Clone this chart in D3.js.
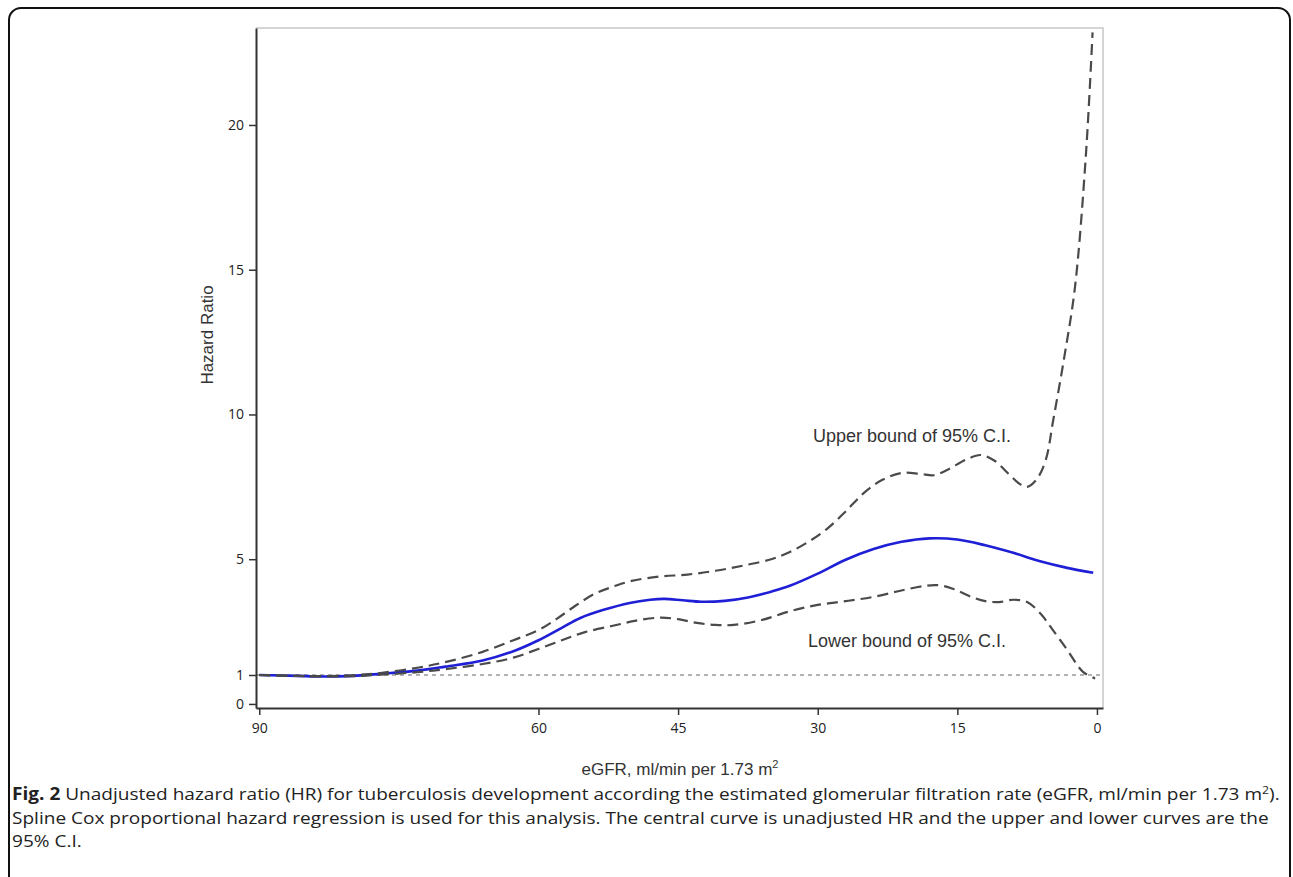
<!DOCTYPE html>
<html>
<head>
<meta charset="utf-8">
<script src="https://cdn.jsdelivr.net/npm/d3@7"></script>
<style>
  body { margin: 0; background: #fff; }
  svg { display: block; }
</style>
</head>
<body>
<svg width="1293" height="877"></svg>
<script>
// eGFR ticks and HR ticks
const xTicks = [90, 60, 45, 30, 15, 0];
const yTicks = [0, 1, 5, 10, 15, 20];

// central curve (unadjusted HR)
const hrX = [90, 86, 83, 80, 77, 73, 70, 66, 62.7, 60, 57.5, 55.5, 53, 50.2, 48, 46.5, 44.5, 42.5, 40, 37.5, 35, 33, 30, 27, 24, 21, 18, 15, 12, 9, 6, 3.2, 0.4];
const hrY = [1.0, 0.97, 0.95, 0.97, 1.04, 1.15, 1.29, 1.5, 1.82, 2.2, 2.63, 2.97, 3.25, 3.49, 3.6, 3.63, 3.58, 3.53, 3.56, 3.68, 3.88, 4.08, 4.5, 4.98, 5.35, 5.6, 5.72, 5.68, 5.48, 5.22, 4.92, 4.7, 4.53];

// upper bound of 95% CI
const upX = [90, 86, 83, 80, 77, 73, 69.8, 66, 62.7, 60, 58, 56, 54, 52, 50, 47, 44, 41, 38, 35, 33, 31, 29, 27, 25, 23, 21, 19, 17.5, 16, 14, 12.5, 11, 9.5, 8.3, 7.5, 6.5, 5.5, 4.7, 3.5, 2.36, 1.18, 0.47];
const upY = [1.0, 0.97, 0.96, 0.99, 1.07, 1.25, 1.46, 1.8, 2.2, 2.55, 2.95, 3.4, 3.8, 4.05, 4.25, 4.4, 4.47, 4.6, 4.78, 5.0, 5.25, 5.6, 6.05, 6.65, 7.3, 7.75, 7.98, 7.95, 7.9, 8.1, 8.45, 8.6, 8.4, 7.95, 7.6, 7.5, 7.75, 8.43, 9.8, 12.0, 14.4, 19.0, 23.2];

// lower bound of 95% CI
const loX = [90, 86, 83, 80, 77, 73, 69.8, 66, 62.7, 60, 57.5, 55, 52, 49.5, 47, 45, 43, 41, 39, 36, 33, 30, 27, 24, 21, 18.5, 17, 15.5, 13.5, 12, 10.5, 9, 7.5, 6, 5, 3.2, 1.5, 0.2];
const loY = [1.0, 0.97, 0.95, 0.96, 1.01, 1.1, 1.21, 1.38, 1.6, 1.9, 2.2, 2.48, 2.7, 2.88, 2.98, 2.93, 2.8, 2.73, 2.73, 2.9, 3.2, 3.42, 3.55, 3.7, 3.92, 4.08, 4.1, 3.98, 3.7, 3.55, 3.52, 3.6, 3.52, 3.1, 2.67, 1.87, 1.11, 0.88];

const captionLines = [
  { bold: "Fig. 2", text: " Unadjusted hazard ratio (HR) for tuberculosis development according the estimated glomerular filtration rate (eGFR, ml/min per 1.73 m", sup: "2", tail: ")." },
  { bold: "", text: "Spline Cox proportional hazard regression is used for this analysis. The central curve is unadjusted HR and the upper and lower curves are the" },
  { bold: "", text: "95% C.I." }
];

const svg = d3.select("svg");

// outer rounded frame (bottom edge runs off the page)
svg.append("rect")
  .attr("x", 9).attr("y", 8)
  .attr("width", 1281).attr("height", 880)
  .attr("rx", 12)
  .attr("fill", "none")
  .attr("stroke", "#111")
  .attr("stroke-width", 2);

const x = d3.scaleLinear().domain([90.35, -0.65]).range([256, 1103]);
const y = d3.scaleLinear().domain([-0.14, 23.35]).range([708, 28]);

// plot frame (top / right light gray)
svg.append("path")
  .attr("d", `M${x.range()[0]},${y.range()[1]}H${x.range()[1]}V${y.range()[0]}`)
  .attr("fill", "none")
  .attr("stroke", "#c8c8c8")
  .attr("stroke-width", 1.5);

// reference line at HR = 1
svg.append("line")
  .attr("x1", x.range()[0]).attr("x2", x.range()[1])
  .attr("y1", y(1)).attr("y2", y(1))
  .attr("stroke", "#999")
  .attr("stroke-width", 1.3)
  .attr("stroke-dasharray", "4,4");

const tickFont = "'Open Sans', 'DejaVu Sans', sans-serif";

const xAxis = svg.append("g")
  .attr("transform", `translate(0,${y.range()[0]})`)
  .call(d3.axisBottom(x).tickValues(xTicks).tickSize(7).tickPadding(8).tickSizeOuter(0));
const yAxis = svg.append("g")
  .attr("transform", `translate(${x.range()[0]},0)`)
  .call(d3.axisLeft(y).tickValues(yTicks).tickSize(7).tickPadding(5).tickSizeOuter(0));

[xAxis, yAxis].forEach(g => {
  g.select(".domain").attr("stroke", "#333").attr("stroke-width", 2);
  g.selectAll(".tick line").attr("stroke", "#333").attr("stroke-width", 1.5);
  g.selectAll(".tick text")
    .attr("fill", "#222")
    .style("font-family", tickFont)
    .style("font-size", "14px");
});

const line = d3.line()
  .x(d => x(d[0]))
  .y(d => y(d[1]))
  .curve(d3.curveCatmullRom.alpha(0.5));

// blue first so that dashes overlay it at the left end
svg.append("path")
  .datum(d3.zip(hrX, hrY))
  .attr("d", line)
  .attr("fill", "none")
  .attr("stroke", "#1f1fd6")
  .attr("stroke-width", 2.6);

[[upX, upY], [loX, loY]].forEach(([xs, ys]) => {
  svg.append("path")
    .datum(d3.zip(xs, ys))
    .attr("d", line)
    .attr("fill", "none")
    .attr("stroke", "#4a4a4a")
    .attr("stroke-width", 2.2)
    .attr("stroke-dasharray", "11,6");
});

const labelFont = "'Liberation Sans', Arial, sans-serif";

svg.append("text")
  .attr("x", 912).attr("y", 442)
  .attr("text-anchor", "middle")
  .attr("fill", "#333")
  .style("font-family", labelFont)
  .style("font-size", "18px")
  .text("Upper bound of 95% C.I.");

svg.append("text")
  .attr("x", 907).attr("y", 647)
  .attr("text-anchor", "middle")
  .attr("fill", "#333")
  .style("font-family", labelFont)
  .style("font-size", "18px")
  .text("Lower bound of 95% C.I.");

// axis titles
svg.append("text")
  .attr("transform", "translate(213,335) rotate(-90)")
  .attr("text-anchor", "middle")
  .attr("fill", "#333")
  .style("font-family", labelFont)
  .style("font-size", "17px")
  .text("Hazard Ratio");

const xt = svg.append("text")
  .attr("x", 680).attr("y", 775)
  .attr("text-anchor", "middle")
  .attr("fill", "#333")
  .style("font-family", labelFont)
  .style("font-size", "17px");
xt.append("tspan").text("eGFR, ml/min per 1.73 m");
xt.append("tspan").attr("dy", -7).style("font-size", "11px").text("2");

// caption: 17px text, one horizontal stretch for all lines so line 1 fills the width
const capFont = "'Open Sans', sans-serif";
const capY = [800, 823.5, 847];
const capGroups = captionLines.map((c, i) => {
  const g = svg.append("g");
  const t = g.append("text")
    .attr("fill", "#222")
    .style("font-family", capFont)
    .style("font-size", "17px");
  if (c.bold) t.append("tspan").style("font-weight", "bold").text(c.bold);
  t.append("tspan").text(c.text);
  if (c.sup) {
    t.append("tspan").attr("dy", -6).style("font-size", "11px").text(c.sup);
    t.append("tspan").attr("dy", 6).text(c.tail);
  }
  return { g, t };
});
const sx = 1268 / capGroups[0].t.node().getBBox().width;
capGroups.forEach((c, i) => c.g.attr("transform", `translate(12,${capY[i]}) scale(${sx},1)`));
</script>
</body>
</html>
